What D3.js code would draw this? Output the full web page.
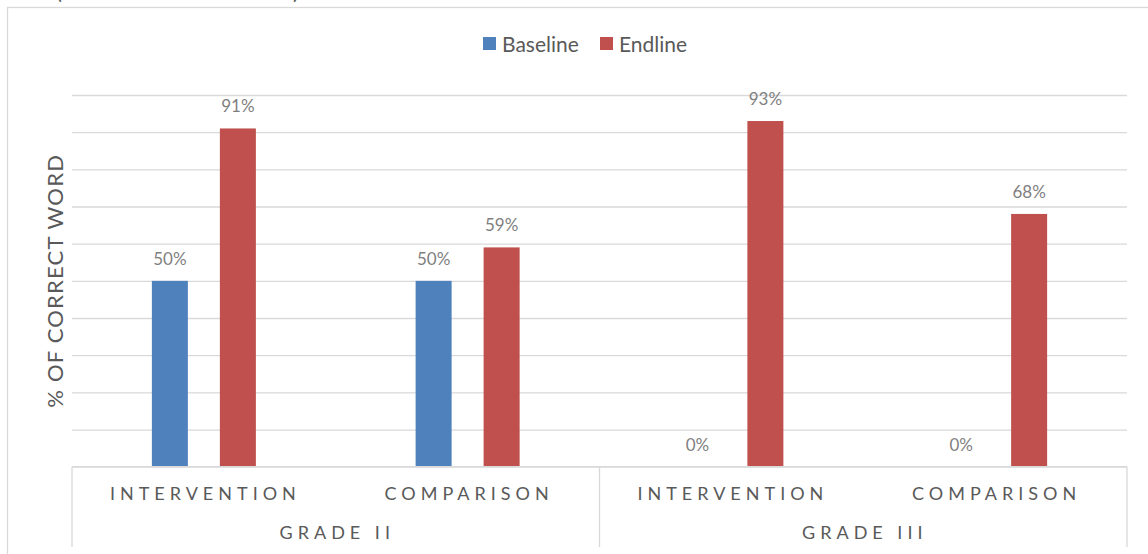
<!DOCTYPE html>
<html>
<head>
<meta charset="utf-8">
<script src="https://cdn.jsdelivr.net/npm/d3@7"></script>
<style>
  html, body { margin: 0; padding: 0; background: #fff; }
  svg { display: block; font-family: Lato, "Open Sans", sans-serif; }
</style>
</head>
<body>
<svg id="chart" width="1148" height="554"></svg>
<script>
// Share of correct words, by grade and group
const grades = ["GRADE II", "GRADE III"];
const groups = ["INTERVENTION", "COMPARISON"];
const series = ["Baseline", "Endline"];
const baselineValues = [50, 50, 0, 0];
const endlineValues = [91, 59, 93, 68];
const yTicks = [0, 10, 20, 30, 40, 50, 60, 70, 80, 90, 100];
const colors = { Baseline: "#4f81bd", Endline: "#c0504d" };

const categories = [];
grades.forEach(g => groups.forEach(s => categories.push({ key: g + "|" + s, grade: g, group: s })));
const rows = categories.map((c, i) => ({
  ...c,
  values: [
    { series: "Baseline", value: baselineValues[i] },
    { series: "Endline", value: endlineValues[i] }
  ]
}));

const svg = d3.select("#chart");
const margin = { left: 72, right: 1127, top: 95, bottom: 466.7 };

// outer frame
svg.append("rect")
  .attr("x", 7.5).attr("y", 7.5)
  .attr("width", 1200).attr("height", 600)
  .attr("fill", "none").attr("stroke", "#d9d9d9").attr("stroke-width", 1.3);

// heading brackets, mostly above the frame
svg.append("text").attr("x", 56).attr("y", -1)
  .attr("font-size", 22).attr("fill", "#595959").text("(");
svg.append("text").attr("x", 293).attr("y", -1)
  .attr("font-size", 22).attr("fill", "#595959").text(")");

const x0 = d3.scaleBand()
  .domain(categories.map(c => c.key))
  .range([margin.left, margin.right])
  .padding(0);

const mid = x0.bandwidth() / 2;
const x1 = d3.scaleBand()
  .domain(series)
  .range([mid - 52, mid + 52])
  .paddingInner(32 / 68)
  .paddingOuter(0);

const y = d3.scaleLinear()
  .domain([0, 100])
  .range([margin.bottom, margin.top]);

// horizontal gridlines
const yAxis = d3.axisLeft(y)
  .tickValues(yTicks)
  .tickSize(-(margin.right - margin.left))
  .tickFormat("");
const gy = svg.append("g")
  .attr("transform", `translate(${margin.left},0)`)
  .call(yAxis);
gy.select(".domain").remove();
gy.selectAll(".tick line")
  .attr("stroke", "#d9d9d9").attr("stroke-width", 1.3);

// bars
const cat = svg.append("g").selectAll("g")
  .data(rows)
  .join("g")
  .attr("transform", d => `translate(${x0(d.key)},0)`);

cat.selectAll("rect")
  .data(d => d.values)
  .join("rect")
  .attr("x", d => x1(d.series))
  .attr("width", x1.bandwidth())
  .attr("y", d => y(d.value))
  .attr("height", d => y(0) - y(d.value))
  .attr("fill", d => colors[d.series]);

cat.selectAll("text")
  .data(d => d.values)
  .join("text")
  .attr("x", d => x1(d.series) + x1.bandwidth() / 2)
  .attr("y", d => y(d.value) - 16)
  .attr("text-anchor", "middle")
  .attr("font-size", 17)
  .attr("fill", "#7f7f7f")
  .text(d => d.value + "%");

// category axis: baseline and group separators
const axisG = svg.append("g");
axisG.append("line")
  .attr("x1", margin.left).attr("x2", margin.right)
  .attr("y1", y(0)).attr("y2", y(0))
  .attr("stroke", "#d9d9d9").attr("stroke-width", 1.3);

const gradeScale = d3.scaleBand()
  .domain(grades)
  .range([margin.left, margin.right]);

const separators = [margin.left].concat(grades.map(g => gradeScale(g) + gradeScale.bandwidth()));
axisG.selectAll("line.sep")
  .data(separators)
  .join("line")
  .attr("class", "sep")
  .attr("x1", d => d).attr("x2", d => d)
  .attr("y1", y(0)).attr("y2", 547)
  .attr("stroke", "#d9d9d9").attr("stroke-width", 1.3);

// inner labels
axisG.selectAll("text.group")
  .data(categories)
  .join("text")
  .attr("class", "group")
  .attr("x", d => x0(d.key) + x0.bandwidth() / 2 + 1.5)
  .attr("y", 500)
  .attr("text-anchor", "middle")
  .attr("font-size", 18)
  .attr("letter-spacing", "5px")
  .attr("fill", "#595959")
  .text(d => d.group);

// outer labels
axisG.selectAll("text.grade")
  .data(grades)
  .join("text")
  .attr("class", "grade")
  .attr("x", d => gradeScale(d) + gradeScale.bandwidth() / 2 + 1.5)
  .attr("y", 539)
  .attr("text-anchor", "middle")
  .attr("font-size", 18)
  .attr("letter-spacing", "5px")
  .attr("fill", "#595959")
  .text(d => d);

// y-axis title
svg.append("text")
  .attr("transform", `translate(63,${(margin.top + margin.bottom) / 2}) rotate(-90)`)
  .attr("text-anchor", "middle")
  .attr("font-size", 22)
  .attr("letter-spacing", "1.2px")
  .attr("fill", "#595959")
  .text("% OF CORRECT WORD");

// legend
const legend = svg.append("g").attr("transform", "translate(483,37)");
const legendItems = legend.selectAll("g")
  .data(series)
  .join("g")
  .attr("transform", (d, i) => `translate(${i * 117},0)`);
legendItems.append("rect")
  .attr("width", 13).attr("height", 13)
  .attr("fill", d => colors[d]);
legendItems.append("text")
  .attr("x", 19).attr("y", 14.5)
  .attr("font-size", 21)
  .attr("fill", "#595959")
  .text(d => d);
</script>
</body>
</html>
